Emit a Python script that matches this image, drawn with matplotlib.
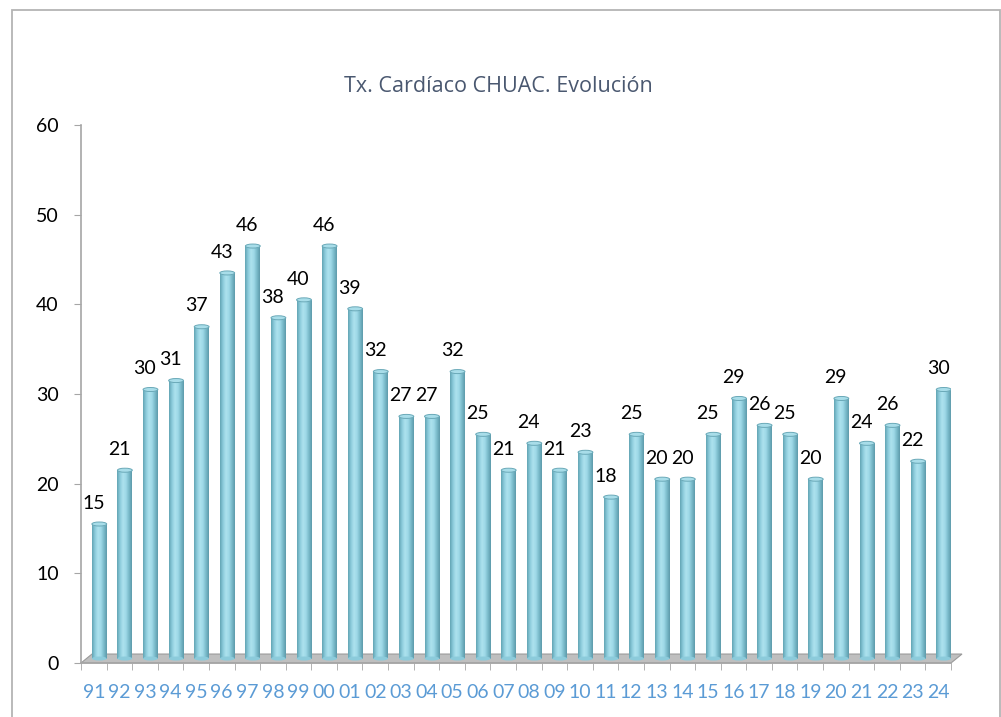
import numpy as np
import matplotlib.pyplot as plt
from matplotlib.patches import Polygon, Ellipse
from matplotlib.colors import LinearSegmentedColormap

plt.rcParams['font.family'] = ['Lato', 'DejaVu Sans']

years = ["91", "92", "93", "94", "95", "96", "97", "98", "99", "00",
         "01", "02", "03", "04", "05", "06", "07", "08", "09", "10",
         "11", "12", "13", "14", "15", "16", "17", "18", "19", "20",
         "21", "22", "23", "24"]
transplants = [15, 21, 30, 31, 37, 43, 46, 38, 40, 46,
               39, 32, 27, 27, 32, 25, 21, 24, 21, 23,
               18, 25, 20, 20, 25, 29, 26, 25, 20, 29,
               24, 26, 22, 30]
title = "Tx. Cardíaco CHUAC. Evolución"

# 3D look: bars sit on a floor that is shifted back/up
depth_x = 0.215
depth_y = 0.5
bar_w = 0.58

fig = plt.figure(figsize=(10.01, 7.17), dpi=100)
fig.patches.append(plt.Rectangle((12 / 1001, -0.1), 988 / 1001, 1.1 - 10 / 717,
                                 transform=fig.transFigure, fill=False,
                                 edgecolor='#b4b4b4', linewidth=1.3))
ax = fig.add_axes([81 / 1001, 54 / 717, 870 / 1001, 538 / 717])
n = len(years)
ax.set_xlim(-0.5, n - 0.5)
ax.set_ylim(0, 60)

# floor
floor = Polygon([(-0.5, 0), (n - 0.5, 0), (n - 0.5 + 2 * depth_x, 2 * depth_y),
                 (-0.5 + 2 * depth_x, 2 * depth_y)], closed=True,
                facecolor='#bfbfbf', edgecolor='#9a9a9a', linewidth=0.8,
                clip_on=False, zorder=1)
ax.add_patch(floor)

cmap = LinearSegmentedColormap.from_list(
    "cyl", ["#62a5b4", "#8ccbdb", "#ade2ee", "#9fd9e8", "#7abbcb", "#5e9bab"])
grad = np.linspace(0, 1, 64).reshape(1, -1)

for i, v in enumerate(transplants):
    cx = i + depth_x
    x0, x1 = cx - bar_w / 2, cx + bar_w / 2
    ax.imshow(grad, cmap=cmap, extent=[x0, x1, depth_y, v + depth_y],
              aspect='auto', zorder=2, interpolation='bilinear')
    ax.add_patch(Ellipse((cx, depth_y), bar_w, 0.45, facecolor='#8ccbdb',
                         edgecolor='none', zorder=2))
    ax.add_patch(Ellipse((cx, v + depth_y), bar_w, 0.45, facecolor='#a8dde9',
                         edgecolor='#6aa9b8', linewidth=0.7, zorder=3))
    ax.annotate(str(v), (i, v + depth_y), xytext=(0, 11), textcoords='offset points',
                ha='center', va='baseline', fontsize=14, color='black')

ax.set_xlim(-0.5, n - 0.5)
ax.set_ylim(0, 60)

for s in ['top', 'right']:
    ax.spines[s].set_visible(False)
ax.spines['left'].set_color('#a6a6a6')
ax.spines['bottom'].set_color('#a6a6a6')
ax.spines['left'].set_linewidth(1.2)
ax.spines['bottom'].set_linewidth(1.2)

ax.set_yticks(np.arange(0, 61, 10))
ax.tick_params(axis='y', length=5, color='#a6a6a6', labelsize=14, pad=11,
               labelcolor='black')
ax.set_xticks(np.arange(n))
ax.set_xticklabels(years)
ax.set_xticks(np.arange(-0.5, n, 1), minor=True)
ax.tick_params(axis='x', which='major', length=0, labelsize=14, pad=15,
               labelcolor='#5b9bd5')
ax.tick_params(axis='x', which='minor', length=5, color='#a6a6a6')

fig.text(498 / 1001, 1 - 86 / 717, title, ha='center', va='center',
         fontsize=15.5, color='#4a5870', family=['Open Sans', 'DejaVu Sans'])

fig.savefig("out.png", dpi=100)
